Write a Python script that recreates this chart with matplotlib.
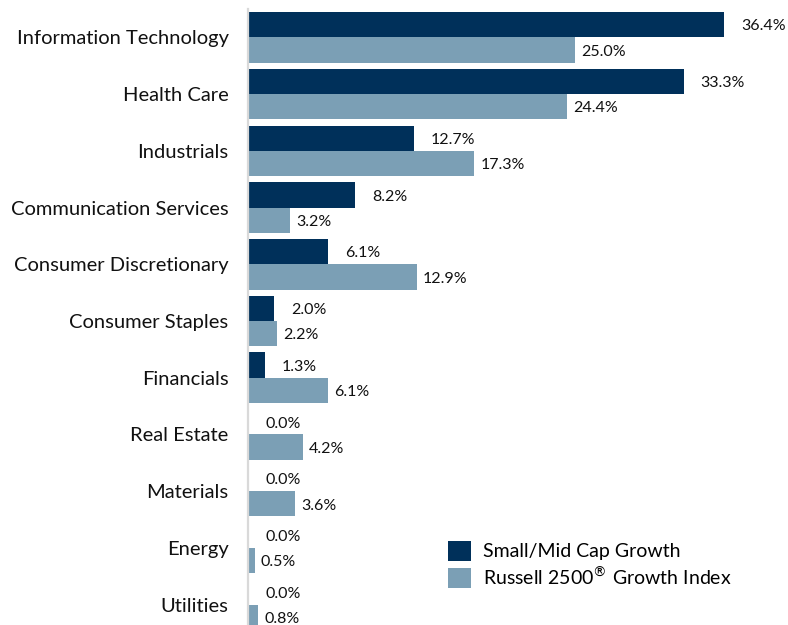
import matplotlib
matplotlib.use("Agg")
import matplotlib.pyplot as plt
import numpy as np
from matplotlib.patches import Patch

categories = ["Information Technology", "Health Care", "Industrials",
              "Communication Services", "Consumer Discretionary", "Consumer Staples",
              "Financials", "Real Estate", "Materials", "Energy", "Utilities"]
small_mid = [36.4, 33.3, 12.7, 8.2, 6.1, 2.0, 1.3, 0.0, 0.0, 0.0, 0.0]
russell = [25.0, 24.4, 17.3, 3.2, 12.9, 2.2, 6.1, 4.2, 3.6, 0.5, 0.8]
series_names = ["Small/Mid Cap Growth", r"Russell 2500$^{\circledR}$ Growth Index"]

navy = "#00305a"
steel = "#7b9fb5"
txt = "#111111"

plt.rcParams['font.family'] = ['Lato', 'DejaVu Sans']
plt.rcParams['mathtext.fontset'] = 'dejavusans'

W, H = 788, 625
fig = plt.figure(figsize=(W/100, H/100), dpi=100)
ax_left = 248 / W
ax_top_px = 9
ax_bot_px = 633
ax = fig.add_axes([ax_left, (H - ax_bot_px) / H, 1 - ax_left, (ax_bot_px - ax_top_px) / H])

y = np.arange(len(categories))
bh = 0.446
ax.barh(y - bh/2, small_mid, height=bh, color=navy)
ax.barh(y + bh/2, russell, height=bh, color=steel)

xmax = (W - 248) / 13.08
ax.set_xlim(0, xmax)
ax.set_ylim(len(categories) - 0.5, -0.5)

px = xmax / (W - 248)  # data units per pixel
for i, (a, b) in enumerate(zip(small_mid, russell)):
    ax.text(a + 17 * px, i - bh/2 + 0.03, f"{a:.1f}%", va='center', ha='left',
            fontsize=11.5, color=txt)
    ax.text(b + 6 * px, i + bh/2 + 0.03, f"{b:.1f}%", va='center', ha='left',
            fontsize=11.5, color=txt)

ax.set_yticks(y)
ax.set_yticklabels(categories, fontsize=14.5, color=txt)
ax.tick_params(axis='y', length=0, pad=14)
ax.set_xticks([])
for s in ['top', 'right', 'bottom']:
    ax.spines[s].set_visible(False)
ax.spines['left'].set_color('#d9d9d9')
ax.spines['left'].set_linewidth(1.6)

handles = [Patch(facecolor=navy), Patch(facecolor=steel)]
fig.legend(handles, series_names, loc='upper left',
           bbox_to_anchor=(434 / W, 1 - 527 / H), frameon=False,
           fontsize=14, handlelength=1.2, handleheight=1.2,
           handletextpad=0.6, labelspacing=0.25, borderpad=0.2)

fig.savefig("out.png", dpi=100)
